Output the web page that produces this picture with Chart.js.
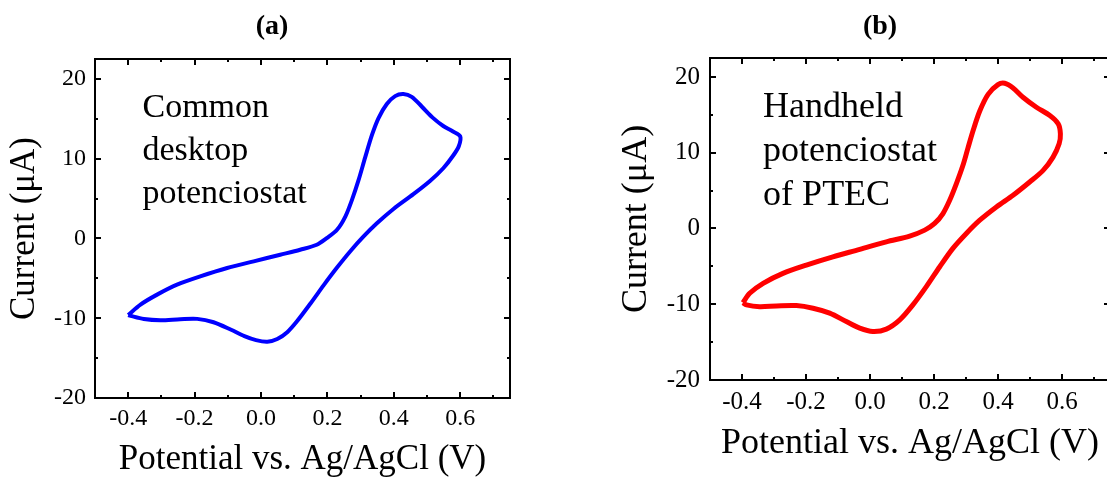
<!DOCTYPE html>
<html>
<head>
<meta charset="utf-8">
<title>Cyclic voltammograms: desktop vs handheld potenciostat</title>
<script src="https://cdn.jsdelivr.net/npm/chart.js@4.4.1/dist/chart.umd.min.js"></script>
<style>
  html, body { margin: 0; padding: 0; background: #fff; overflow: hidden; }
  body { position: relative; width: 1107px; height: 477px; }
  canvas { position: absolute; top: 0; }
  #chartA { left: 0; }
  #chartB { left: 600px; }
</style>
</head>
<body>
<canvas id="chartA" width="544" height="477"></canvas>
<canvas id="chartB" width="560" height="477"></canvas>
<script>
// axis ticks
const xTicks = [-0.4, -0.2, 0.0, 0.2, 0.4, 0.6];
const xMinorTicks = [-0.3, -0.1, 0.1, 0.3, 0.5, 0.7];
const yTicks = [-20, -10, 0, 10, 20];
const yMinorTicks = [-15, -5, 5, 15];

// (a) common desktop potenciostat
const potentialA = [-0.400, -0.363, -0.313, -0.253, -0.183, -0.102, -0.022, 0.058, 0.118, 0.168,
  0.198, 0.229, 0.254, 0.274, 0.294, 0.314, 0.334, 0.354, 0.379, 0.404,
  0.429, 0.454, 0.484, 0.517, 0.549, 0.577, 0.600, 0.596, 0.579, 0.549,
  0.509, 0.459, 0.399, 0.349, 0.309, 0.269, 0.229, 0.189, 0.149, 0.109,
  0.079, 0.049, 0.019, -0.015, -0.050, -0.090, -0.143, -0.192, -0.243, -0.303,
  -0.353, -0.393, -0.400];
const currentA = [-9.60, -8.29, -7.04, -5.79, -4.75, -3.70, -2.87, -2.04, -1.41, -0.79,
  0.05, 1.09, 2.75, 4.84, 7.34, 10.20, 12.95, 15.10, 16.85, 17.85,
  18.10, 17.75, 16.55, 15.15, 14.10, 13.45, 12.80, 11.60, 10.40, 8.80,
  7.20, 5.55, 3.70, 1.90, 0.25, -1.60, -3.65, -5.85, -8.15, -10.35,
  -11.75, -12.60, -12.95, -12.75, -12.25, -11.45, -10.50, -10.08, -10.12, -10.25,
  -10.10, -9.70, -9.60];
const noteA = ["Common", "desktop", "potenciostat"];

// (b) handheld potenciostat of PTEC
const potentialB = [-0.397, -0.376, -0.334, -0.272, -0.199, -0.116, -0.032, 0.051, 0.124, 0.171,
  0.202, 0.228, 0.249, 0.270, 0.291, 0.306, 0.322, 0.343, 0.369, 0.400,
  0.421, 0.447, 0.478, 0.520, 0.562, 0.588, 0.595, 0.591, 0.572, 0.541,
  0.499, 0.447, 0.395, 0.343, 0.301, 0.259, 0.218, 0.176, 0.134, 0.093,
  0.051, 0.009, -0.032, -0.074, -0.126, -0.178, -0.230, -0.292, -0.345, -0.386,
  -0.397];
const currentB = [-9.79, -8.55, -7.24, -5.92, -4.83, -3.74, -2.76, -1.76, -1.01, -0.22,
  0.66, 1.97, 3.72, 5.92, 8.40, 10.60, 12.90, 15.50, 17.70, 18.99,
  19.16, 18.55, 17.32, 16.00, 14.91, 13.82, 12.50, 11.18, 9.42, 7.67,
  6.13, 4.38, 2.84, 1.09, -0.66, -2.63, -5.05, -7.68, -10.09, -12.07,
  -13.29, -13.60, -13.16, -12.29, -11.18, -10.53, -10.18, -10.22, -10.32, -10.09,
  -9.79];
const noteB = ["Handheld", "potenciostat", "of PTEC"];

Chart.defaults.font.family = "'Liberation Serif', 'Times New Roman', serif";
Chart.defaults.color = "#000";

/*=============== BOX + INWARD TICKS ===============*/
const frameTicks = {
  id: "frameTicks",
  afterDatasetsDraw(chart) {
    const { ctx, chartArea: area, scales: { x, y } } = chart;
    ctx.save();
    ctx.strokeStyle = "#000";
    ctx.lineWidth = 2;
    ctx.beginPath();
    const tickX = (v, len) => {
      const px = Math.round(x.getPixelForValue(v));
      ctx.moveTo(px, area.bottom);
      ctx.lineTo(px, area.bottom - len);
      ctx.moveTo(px, area.top);
      ctx.lineTo(px, area.top + len);
    };
    const tickY = (v, len) => {
      const py = Math.round(y.getPixelForValue(v));
      ctx.moveTo(area.left, py);
      ctx.lineTo(area.left + len, py);
      ctx.moveTo(area.right, py);
      ctx.lineTo(area.right - len, py);
    };
    xTicks.forEach((v) => tickX(v, 6));
    xMinorTicks.forEach((v) => tickX(v, 3));
    yTicks.forEach((v) => tickY(v, 6));
    yMinorTicks.forEach((v) => tickY(v, 3));
    ctx.stroke();
    ctx.strokeRect(area.left, area.top, area.width, area.height);
    ctx.restore();
  },
};

/*=============== TEXT INSIDE PLOT ===============*/
const noteText = {
  id: "noteText",
  afterDraw(chart, args, opts) {
    const { ctx, scales: { x, y } } = chart;
    ctx.save();
    ctx.font = opts.size + "px 'Liberation Serif', 'Times New Roman', serif";
    ctx.fillStyle = "#000";
    ctx.textBaseline = "alphabetic";
    ctx.textAlign = "left";
    const left = x.getPixelForValue(opts.x);
    const base = y.getPixelForValue(opts.y);
    opts.lines.forEach((line, i) => ctx.fillText(line, left, base + i * opts.gap));
    ctx.restore();
  },
};

function createChart(chartId, s) {
  const ctx = document.getElementById(chartId).getContext("2d");
  const points = s.potential.map((v, i) => ({ x: v, y: s.current[i] }));
  return new Chart(ctx, {
    type: "scatter",
    data: {
      datasets: [
        {
          data: points,
          showLine: true,
          borderColor: s.color,
          borderWidth: s.lineWidth,
          pointRadius: 0,
          tension: 0.3,
          fill: false,
        },
      ],
    },
    options: {
      responsive: false,
      animation: false,
      devicePixelRatio: 1,
      layout: { padding: { left: s.padX, right: s.padX, top: 0, bottom: 0 } },
      plugins: {
        legend: { display: false },
        tooltip: { enabled: false },
        title: {
          display: true,
          text: s.title,
          font: { size: 28, weight: "bold", lineHeight: 1.2 },
          padding: { top: 10, bottom: s.titleGap },
        },
        noteText: { lines: s.note, x: s.noteX, y: s.noteY, gap: s.noteGap, size: s.noteSize },
      },
      scales: {
        x: {
          type: "linear",
          min: -0.5,
          max: 0.75,
          afterBuildTicks: (axis) => {
            axis.ticks = xTicks.map((v) => ({ value: v }));
          },
          afterFit: (axis) => {
            axis.height = s.xAxisHeight;
          },
          ticks: {
            callback: (v) => v.toFixed(1),
            font: { size: s.tickSize },
            padding: s.xTickPad,
            maxRotation: 0,
            autoSkip: false,
          },
          grid: { display: false, drawTicks: false },
          border: { display: false },
          title: {
            display: true,
            text: "Potential vs. Ag/AgCl (V)",
            font: { size: s.labelSize, lineHeight: 1 },
            padding: { top: 0, bottom: s.xTitlePad },
          },
        },
        y: {
          type: "linear",
          min: -20,
          max: 22.5,
          afterBuildTicks: (axis) => {
            axis.ticks = yTicks.map((v) => ({ value: v }));
          },
          afterFit: (axis) => {
            axis.width = s.yAxisWidth;
          },
          ticks: {
            callback: (v) => String(v),
            font: { size: s.tickSize },
            padding: s.yTickPad,
            autoSkip: false,
          },
          grid: { display: false, drawTicks: false },
          border: { display: false },
          title: {
            display: true,
            text: "Current (\u03bcA)",
            font: { size: s.labelSize, lineHeight: 1 },
            padding: { top: s.yTitlePad, bottom: 0 },
          },
        },
      },
    },
    plugins: [frameTicks, noteText],
  });
}

const chartA = createChart("chartA", {
  potential: potentialA,
  current: currentA,
  color: "#0000ff",
  lineWidth: 4,
  title: "(a)",
  titleGap: 15.4,
  padX: 34,
  xAxisHeight: 79,
  yAxisWidth: 61,
  tickSize: 24,
  xTickPad: 6,
  yTickPad: 9,
  labelSize: 35,
  xTitlePad: 0,
  yTitlePad: -26.5,
  note: noteA,
  noteX: -0.357,
  noteY: 15.25,
  noteGap: 43.3,
  noteSize: 34,
});

const chartB = createChart("chartB", {
  potential: potentialB,
  current: currentB,
  color: "#ff0000",
  lineWidth: 5,
  title: "(b)",
  titleGap: 14.4,
  padX: 50,
  xAxisHeight: 97,
  yAxisWidth: 60,
  tickSize: 25,
  xTickPad: 7,
  yTickPad: 10,
  labelSize: 36,
  xTitlePad: 15,
  yTitlePad: -31,
  note: noteB,
  noteX: -0.334,
  noteY: 14.7,
  noteGap: 44.2,
  noteSize: 36,
});
</script>
</body>
</html>
